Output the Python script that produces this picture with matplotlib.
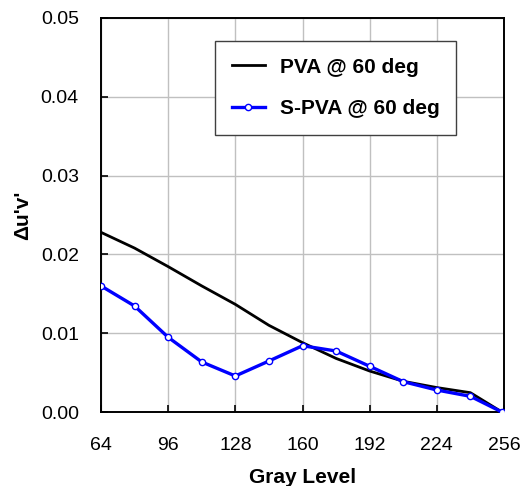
import matplotlib
matplotlib.use("Agg")
import matplotlib.pyplot as plt

# data
gray = [64, 80, 96, 112, 128, 144, 160, 176, 192, 208, 224, 240, 255]
pva = [0.0228, 0.0208, 0.01845, 0.0160, 0.01366, 0.0110, 0.0088, 0.0068,
       0.0052, 0.0039, 0.0031, 0.00245, 0.0]
spva = [0.0160, 0.01345, 0.00948, 0.00635, 0.00457, 0.00647, 0.00841, 0.00774,
        0.0058, 0.00385, 0.00279, 0.00199, 0.0]
xticks = [64, 96, 128, 160, 192, 224, 256]
yticks = [0.00, 0.01, 0.02, 0.03, 0.04, 0.05]

plt.rcParams['font.family'] = ['Liberation Sans', 'DejaVu Sans']

fig = plt.figure(figsize=(5.23, 4.86), dpi=100)
ax = fig.add_axes([101/523, 1 - 412/486, 403/523, 394/486])

ax.plot(gray, pva, color='black', lw=2.0, label='PVA @ 60 deg', zorder=3)
ax.plot(gray, spva, color='#0000ff', lw=2.4, marker='o', ms=4.5,
        mfc='white', mec='#0000ff', mew=1.0, label='S-PVA @ 60 deg', zorder=4)

ax.set_xlim(64, 256)
ax.set_ylim(0, 0.05)
ax.set_xticks(xticks)
ax.set_yticks(yticks)
ax.set_yticklabels(['%.2f' % v for v in yticks])
ax.grid(True, color='#c0c0c0', lw=1.0)
ax.set_axisbelow(True)
ax.tick_params(direction='in', labelsize=14, length=5, width=1.2)
ax.tick_params(axis='x', pad=18)
ax.tick_params(axis='y', pad=16)
for s in ax.spines.values():
    s.set_linewidth(1.4)
    s.set_color('black')

ax.set_xlabel('Gray Level', fontsize=15, fontweight='bold', labelpad=10)
ax.set_ylabel("\u0394u'v'", fontsize=15, fontweight='bold', labelpad=6)

leg = ax.legend(loc='upper left', bbox_to_anchor=(0.283, 0.942), borderaxespad=0,
                fancybox=False, framealpha=1, edgecolor='#404040',
                prop={'weight': 'bold', 'size': 15}, handlelength=1.6,
                labelspacing=1.1, borderpad=0.8, handletextpad=0.7)
leg.get_frame().set_linewidth(1.0)

fig.savefig('out.png', dpi=100)
